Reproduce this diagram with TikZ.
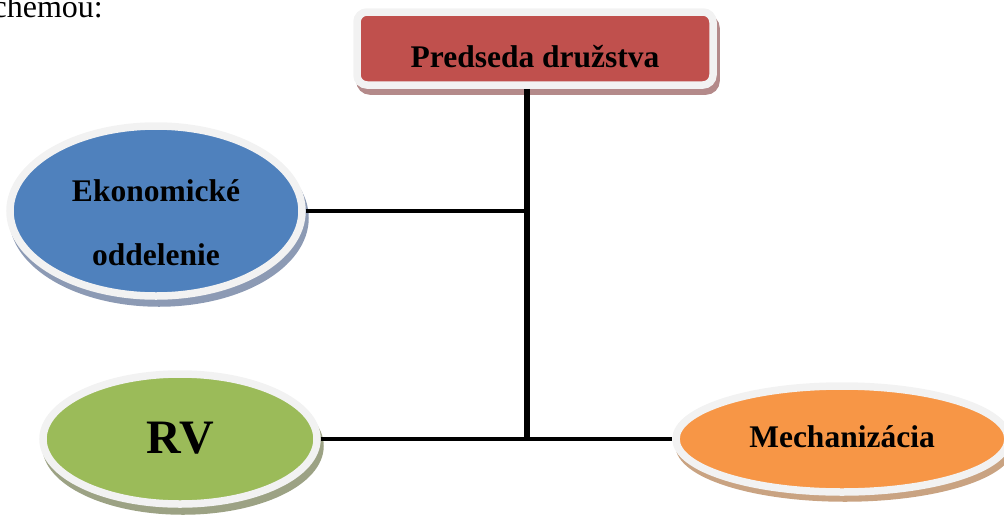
\documentclass[tikz,border=0pt]{standalone}
\usepackage{fontspec}
\setmainfont{Liberation Serif}
\usetikzlibrary{shapes.geometric}
\definecolor{cred}{HTML}{C0504D}
\definecolor{cblue}{HTML}{4F81BD}
\definecolor{cgreen}{HTML}{9BBB59}
\definecolor{corange}{HTML}{F79646}
\definecolor{rim}{HTML}{F2F2F2}
\definecolor{shred}{HTML}{B48A8A}
\definecolor{shblue}{HTML}{8C9AB4}
\definecolor{shgreen}{HTML}{9CA284}
\definecolor{shorange}{HTML}{C9A382}
\begin{document}
\begin{tikzpicture}[x=1pt,y=-1pt,
  shape base/.style={inner sep=0pt, line width=7.5pt, draw=rim},
  oval/.style={shape base, ellipse},
  shadowoval/.style={ellipse, inner sep=0pt, line width=7.5pt},
  lbl/.style={font=\bfseries\fontsize{31.5}{64}\selectfont, text=black},
  conn/.style={line width=3.8pt, black},
  trunk/.style={line width=5.5pt, black}
]
\useasboundingbox (0,0) rectangle (1004,520);
% partial text at top left
\node[anchor=base east, inner sep=0pt, font=\fontsize{32}{38}\selectfont] (intro) at (103,17) {chemou:};

% shadows
\node[rectangle, rounded corners=10pt, inner sep=0pt, line width=7.5pt,
  minimum width=356pt, minimum height=73pt, fill=shred, draw=shred] (boss-sh) at (538,54.5) {};
\node[shadowoval, minimum width=292pt, minimum height=170pt, fill=shblue, draw=shblue] (eko-sh) at (159,218) {};
\node[shadowoval, minimum width=274pt, minimum height=130pt, fill=shgreen, draw=shgreen] (rv-sh) at (183,446) {};
\node[shadowoval, minimum width=332pt, minimum height=106pt, fill=shorange, draw=shorange] (mech-sh) at (845,445) {};

% main shapes
\node[shape base, rectangle, rounded corners=10pt, minimum width=356pt, minimum height=73pt,
  fill=cred, lbl, text height=37pt, text depth=0pt] (boss) at (535,48.5) {Predseda družstva};
\node[oval, minimum width=292pt, minimum height=170pt, fill=cblue, lbl, align=center,
  text height=108pt, text depth=0pt] (eko) at (156,211) {Ekonomické\\oddelenie};
\node[oval, minimum width=274pt, minimum height=130pt, fill=cgreen,
  font=\bfseries\fontsize{48}{56}\selectfont, text height=28pt, text depth=0pt] (rv) at (180,439) {RV};
\node[oval, minimum width=332pt, minimum height=106pt, fill=corange, lbl,
  text height=17pt, text depth=0pt] (mech) at (842,439) {Mechanizácia};

% connectors
\coordinate (j1) at (527,211);
\coordinate (j2) at (527,439);
\draw[trunk] (boss.south -| j2) -- (j2);
\draw[conn] (eko.east) -- (j1);
\draw[conn] (rv.east) -- (mech.west);
\end{tikzpicture}
\end{document}
